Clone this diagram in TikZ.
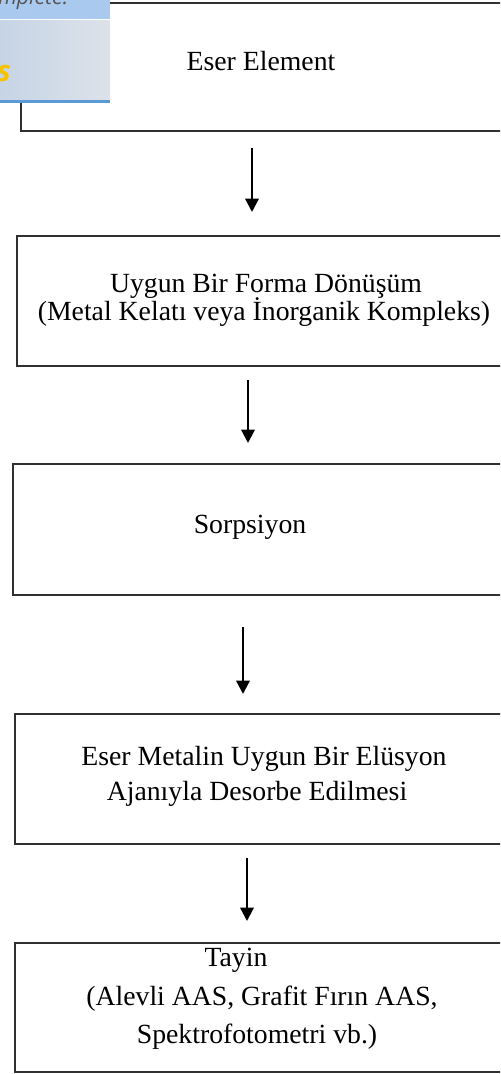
\documentclass[tikz,border=0pt]{standalone}
\usepackage{fontspec}
\setmainfont{Liberation Serif}
\newfontfamily\uifont{Open Sans}
\usetikzlibrary{arrows.meta}
\definecolor{boxline}{HTML}{303030}
\definecolor{bandblue}{HTML}{A9C9EE}
\definecolor{panelL}{HTML}{C6D4E6}
\definecolor{panelR}{HTML}{DDE2E9}
\definecolor{panelline}{HTML}{5B9BD5}
\definecolor{uigray}{HTML}{555555}
\definecolor{uiyellow}{HTML}{F5C300}
\tikzset{
  box/.style={draw=boxline, line width=1.5pt, fill=white, anchor=north west, minimum width=375pt, inner sep=0pt},
  lbl/.style={anchor=base, inner sep=0pt, font=\fontsize{20.8}{24}\selectfont},
  arr/.style={-{Triangle[width=10pt,length=10pt]}, line width=1.7pt, black}
}
\begin{document}
\begin{tikzpicture}[x=0.75pt,y=-0.75pt]
\useasboundingbox (0,0) rectangle (500,1074);
\clip (0,0) rectangle (500,1074);
\fill[white] (0,0) rectangle (500,1074);

% boxes
\node[box, minimum height=96pt]    (b1) at (20,2) {};
\node[box, minimum height=97.5pt]  (b2) at (16,235) {};
\node[box, minimum height=98.25pt] (b3) at (12,463) {};
\node[box, minimum height=97.5pt]  (b4) at (14,713) {};
\node[box, minimum height=96.75pt] (b5) at (14,942) {};

% texts
\node[lbl] (t1)  at (261,70)  {Eser Element};
\node[lbl] (t2a) at (266,292) {Uygun Bir Forma Dönüşüm};
\node[lbl] (t2b) at (264,320) {(Metal Kelatı veya İnorganik Kompleks)};
\node[lbl] (t3)  at (250,533) {Sorpsiyon};
\node[lbl] (t4a) at (264,765) {Eser Metalin Uygun Bir Elüsyon};
\node[lbl] (t4b) at (257,800) {Ajanıyla Desorbe Edilmesi};
\node[lbl] (t5a) at (236,966) {Tayin};
\node[lbl] (t5b) at (262,1005) {(Alevli AAS, Grafit Fırın AAS,};
\node[lbl] (t5c) at (257,1043) {Spektrofotometri vb.)};

% arrows
\coordinate (a1s) at (252,148); \coordinate (a1e) at (252,212);
\coordinate (a2s) at (248,380); \coordinate (a2e) at (248,443);
\coordinate (a3s) at (243,627); \coordinate (a3e) at (243,694);
\coordinate (a4s) at (247,858); \coordinate (a4e) at (247,921);
\draw[arr] (a1s) -- (a1e);
\draw[arr] (a2s) -- (a2e);
\draw[arr] (a3s) -- (a3e);
\draw[arr] (a4s) -- (a4e);

% overlay panel (top-left)
\begin{scope}
\clip (0,0) rectangle (110,103);
\shade[left color=panelL, right color=panelR] (0,19) rectangle (110,100);
\fill[bandblue] (0,0) rectangle (110,19);
\draw[white, line width=0.6pt] (0,19.5) -- (110,19.5);
\fill[panelline] (0,100) rectangle (110,103);
\node[anchor=base west, inner sep=0pt, text=uigray, font=\uifont\itshape\fontsize{16}{18}\selectfont] (ui1) at (-2,5) {mplete.};
\node[anchor=base east, inner sep=0pt, text=uiyellow, font=\uifont\bfseries\itshape\fontsize{22}{24}\selectfont] (ui2) at (11,82) {s};
\end{scope}
\end{tikzpicture}
\end{document}
